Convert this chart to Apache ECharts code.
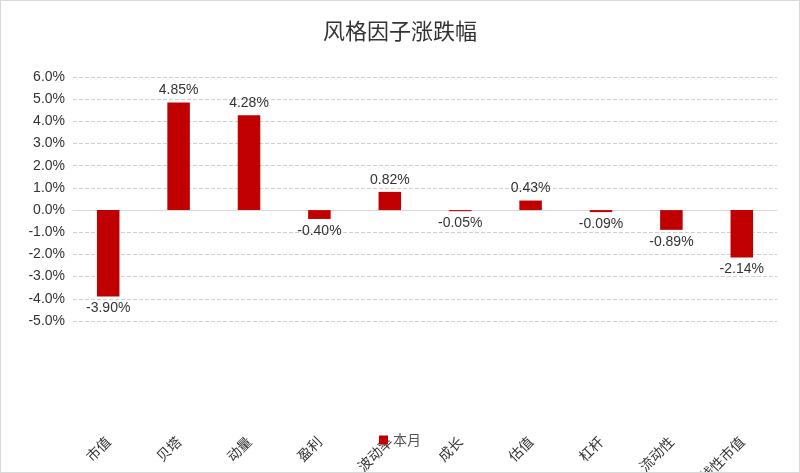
<!DOCTYPE html>
<html lang="zh">
<head>
<meta charset="UTF-8">
<title>风格因子涨跌幅</title>
<script src="https://cdn.jsdelivr.net/npm/echarts@6/dist/echarts.min.js"></script>
<style>
    body { margin: 0; background: #fff; }
    #main { width: 798px; height: 471px; border: 1px solid #d9d9d9; }
</style>
</head>
<body>
<div id="main"></div>
<script>
    var categories = ['市值', '贝塔', '动量', '盈利', '波动率', '成长', '估值', '杠杆', '流动性', '非线性市值'];
    var values = [-3.90, 4.85, 4.28, -0.40, 0.82, -0.05, 0.43, -0.09, -0.89, -2.14];

    var chart = echarts.init(document.getElementById('main'));
    chart.setOption({
        title: {
            text: '风格因子涨跌幅', left: 'center', top: 14,
            textStyle: { fontSize: 22, fontWeight: 'normal', color: '#333', fontFamily: 'Noto Sans CJK SC' }
        },
        legend: {
            bottom: 20, left: 'center', itemWidth: 9, itemHeight: 9, icon: 'rect',
            textStyle: { fontSize: 14, color: '#555', fontFamily: 'Noto Sans CJK SC' },
            data: ['本月']
        },
        grid: { left: 72, right: 22, top: 76, bottom: 151, outerBoundsMode: 'none', containLabel: false },
        xAxis: {
            type: 'category', data: categories,
            axisTick: { show: false },
            axisLine: { lineStyle: { color: '#d9d9d9' } },
            axisLabel: { rotate: 45, interval: 0, fontSize: 14, color: '#333', fontFamily: 'Noto Sans CJK SC', margin: 118 }
        },
        yAxis: {
            type: 'value', min: -5, max: 6, interval: 1,
            axisLabel: { formatter: function (v) { return v.toFixed(1) + '%'; }, fontSize: 14, color: '#333' },
            splitLine: { lineStyle: { type: 'dashed', color: '#d0d0d0' } }
        },
        series: [{
            name: '本月', type: 'bar', barWidth: '32%',
            itemStyle: { color: '#C00000' },
            label: {
                show: true, fontSize: 14, color: '#333', position: 'top',
                formatter: function (p) { return p.value.toFixed(2) + '%'; }
            },
            data: values.map(function (v) {
                return v < 0 ? { value: v, label: { position: 'bottom' } } : v;
            })
        }]
    });
</script>
</body>
</html>
